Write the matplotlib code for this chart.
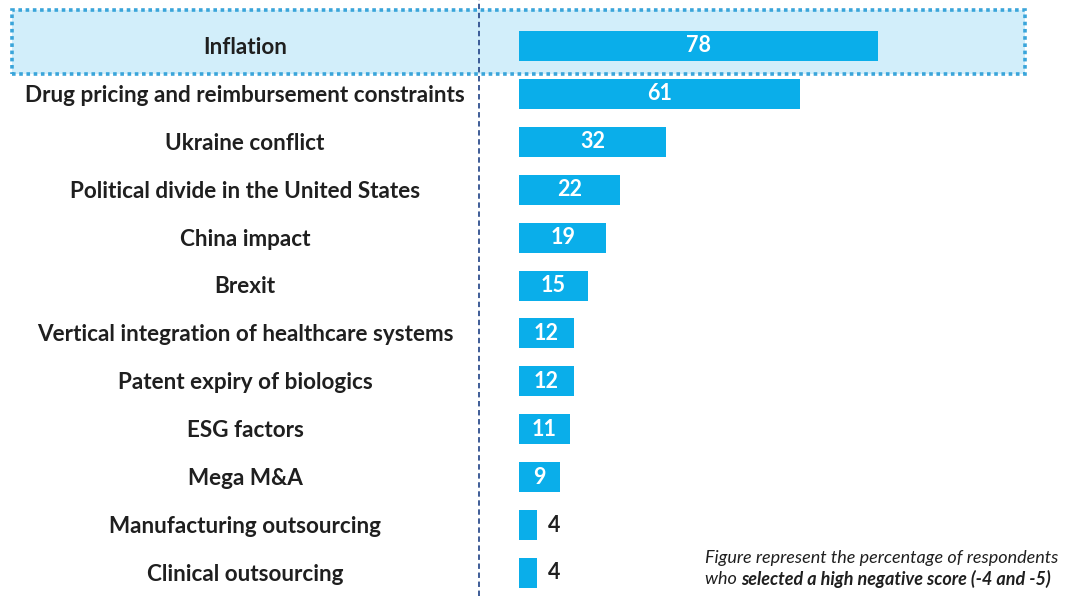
import matplotlib.pyplot as plt
from matplotlib.patches import Rectangle
from matplotlib.lines import Line2D
import matplotlib.transforms as mtransforms

categories = ['Inflation', 'Drug pricing and reimbursement constraints', 'Ukraine conflict',
              'Political divide in the United States', 'China impact', 'Brexit',
              'Vertical integration of healthcare systems', 'Patent expiry of biologics',
              'ESG factors', 'Mega M&A', 'Manufacturing outsourcing', 'Clinical outsourcing']
values = [78, 61, 32, 22, 19, 15, 12, 12, 11, 9, 4, 4]

W, H = 1067, 596
bar_color = '#0AAEEA'
text_color = '#1f1f1f'
font = 'Lato'

fig = plt.figure(figsize=(W / 100, H / 100), dpi=100)

# highlight box behind the first row
fig.patches.append(Rectangle((12 / W, 1 - 74 / H), (1025 - 12) / W, 64 / H,
                             transform=fig.transFigure, facecolor='#D2EEFA',
                             edgecolor='#3AA5DA', linewidth=2.6,
                             linestyle=(0, (1, 1)), zorder=-5))

ax = fig.add_axes([519 / W, 0, 1 - 519 / W, 1])
ax.set_facecolor('none')
ax.set_zorder(2)
px = 4.6  # pixels per unit
ax.set_xlim(0, (W - 519) / px)
row = 47.9
ax.set_ylim((H - 46) / row, -46 / row)
ax.axis('off')

ys = list(range(len(values)))
ax.barh(ys, values, height=30 / row, color=bar_color, zorder=2)

for y, v in zip(ys, values):
    if v >= 8:
        ax.text(v / 2, y, str(v), ha='center', va='center', color='white',
                fontsize=15.5, fontweight='bold', family=font, zorder=3)
    else:
        ax.text(v + 2.2, y, str(v), ha='left', va='center', color=text_color,
                fontsize=15.5, fontweight='bold', family=font, zorder=3)

trans = mtransforms.blended_transform_factory(fig.transFigure, ax.transData)
for y, c in zip(ys, categories):
    ax.text(245 / W, y + 0.03, c, transform=trans, ha='center', va='center',
            color=text_color, fontsize=16.2, fontweight='bold', family=font)

fig.lines.append(Line2D([479 / W, 479 / W], [0, 1], transform=fig.transFigure,
                        color='#2F4F8F', linewidth=1.3, linestyle=(0, (3, 2)),
                        zorder=1))

t1 = fig.text(705 / W, 1 - 558 / H, 'Figure represent the percentage of respondents',
              ha='left', va='center', fontsize=13, style='italic', family=font,
              color=text_color)
t2 = fig.text(705 / W, 1 - 579 / H, 'who ', ha='left', va='center', fontsize=13,
              style='italic', family=font, color=text_color)
fig.canvas.draw()
bb = t2.get_window_extent()
fig.text(bb.x1 / W, 1 - 579 / H, 'selected a high negative score (-4 and -5)',
         ha='left', va='center', fontsize=13, style='italic', fontweight='bold',
         family=font, color=text_color)

fig.savefig('out.png', dpi=100)
